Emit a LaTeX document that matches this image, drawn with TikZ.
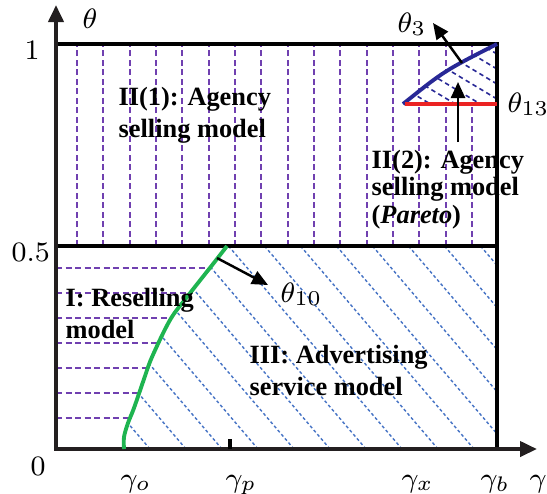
\documentclass[tikz,border=0pt]{standalone}
\usepackage{fontspec}
\setmainfont{Liberation Serif}
\usetikzlibrary{arrows.meta}

\definecolor{hatchpurple}{RGB}{112,64,176}
\definecolor{hatchblue}{RGB}{68,114,196}
\definecolor{curvegreen}{RGB}{30,180,80}
\definecolor{curveblue}{RGB}{40,40,150}
\definecolor{linered}{RGB}{235,35,35}
\definecolor{axisgray}{RGB}{35,31,32}

\tikzset{
  axisline/.style={line width=1.1pt, draw=axisgray, -{Triangle[length=1.7mm,width=1.5mm]}},
  boxline/.style={line width=0.9pt},
  vhatch/.style={draw=hatchpurple, line width=0.5pt, dash pattern=on 0.6mm off 0.35mm},
  dhatch/.style={draw=hatchblue, line width=0.4pt, dash pattern=on 0.3mm off 0.25mm},
  thatch/.style={draw=curveblue, line width=0.45pt, dash pattern=on 0.45mm off 0.35mm},
  pointer/.style={line width=0.7pt, -{Triangle[length=1.6mm,width=1.4mm]}},
  regiontext/.style={font=\fontsize{7.5}{9.1}\selectfont\bfseries, align=left, inner sep=0pt, anchor=west},
  mlabel/.style={font=\fontsize{8.5}{10}\selectfont, inner sep=0pt, anchor=base west},
  % theta_10 boundary (green), starts at (6.8,0)
  greenedge/.style={insert path={-- plot[smooth,tension=0.55] coordinates {(6.8,0) (6.8,1.2) (7.2,2.6) (7.8,4.1) (8.8,7.0) (9.6,9.2) (11.4,12.9) (13.1,15.2) (15.7,18.5) (17.1,20.3)}}},
  % theta_3 boundary (blue), starts at (34.7,34.5)
  blueedge/.style={insert path={.. controls (38.8,37.8) .. (44.1,40.5)}},
}

\begin{document}
\begin{tikzpicture}[x=1mm,y=1mm]
\useasboundingbox (-5.6,-4.4) rectangle (49.1,44.9);
% region I
\begin{scope}
\clip (0,0) [greenedge] -- (0,20.3) -- cycle;
\foreach \y in {3.1,5.6,8.1,10.6,13.1,15.6,18.1}
\draw[vhatch] (0,\y) -- (20,\y);
\end{scope}
% region III
\begin{scope}
\clip (6.8,0) [greenedge] -- (44.1,20.3) -- (44.1,0) -- cycle;
\foreach \k in {-4,...,12}
\draw[dhatch] ({20.2+3.6*\k},0) -- ++(-20,23.4);
\end{scope}
% region II(1)
\foreach \k in {0,...,15}
\draw[vhatch] ({2.1+2.633*\k},20.3) -- ++(0,20.2);
% region II(2)
\fill[white] (34.7,34.5) [blueedge] -- (44.1,34.5) -- cycle;
\begin{scope}
\clip (34.7,34.5) [blueedge] -- (44.1,34.5) -- cycle;
\foreach \k in {0,...,8}
\draw[thatch] (44.1,{29+1.5*\k}) -- ++(-12,7.2);
\end{scope}

\draw[boxline] (0,40.5) -- (44.1,40.5) -- (44.1,0);
\draw[boxline] (0,20.3) -- (44.1,20.3);
\draw[axisline] (0,0) -- (0,44.4);
\draw[axisline] (-0.2,0) -- (48.1,0);
\draw[line width=0.9pt] (17.4,0) -- (17.4,1.0);

\draw[curvegreen, line width=1.1pt] (6.8,0) [greenedge];
\draw[curveblue, line width=1.1pt] (34.7,34.5) [blueedge];
\draw[linered, line width=1.1pt] (34.9,34.5) -- (44.1,34.5);

\node[mlabel] (thetaax) at (2.6,42.1) {$\theta$};
\node[mlabel] (one) at (-3.2,39.0) {$1$};
\node[mlabel] (half) at (-4.5,18.8) {$0.5$};
\node[mlabel] (zero) at (-2.6,-2.6) {$0$};
\node[mlabel] (go) at (6.4,-3.8) {$\gamma_o$};
\node[mlabel] (gp) at (16.9,-3.8) {$\gamma_p$};
\node[mlabel] (gx) at (34.5,-3.8) {$\gamma_x$};
\node[mlabel] (gb) at (42.4,-3.8) {$\gamma_b$};
\node[mlabel] (gax) at (47.3,-3.8) {$\gamma$};

\node[mlabel] (th3) at (34.1,41.7) {$\theta_3$};
\node[mlabel] (th13) at (45.1,33.7) {$\theta_{13}$};
\node[mlabel] (th10) at (22.4,14.7) {$\theta_{10}$};

\node[regiontext] (resell) at (0.9,13.6) {I: Reselling\\model};
\node[regiontext] (agency) at (6.2,33.4) {II(1): Agency\\selling model};
\node[regiontext, font=\fontsize{7.5}{7.9}\selectfont\bfseries] (pareto) at (31.5,25.95) {II(2): Agency\\selling model\\(\textit{Pareto})};
\node[regiontext] (advert) at (19.3,7.9) {III: Advertising\\service model};

\coordinate (p10) at (16.1,19.1);
\coordinate (q10) at (21.2,16.4);
\coordinate (p3) at (40.6,38.6);
\coordinate (q3) at (37.7,42.6);
\coordinate (pp) at (40.2,30.7);
\coordinate (qp) at (40.2,36.7);
\draw[pointer] (p10) -- (q10);
\draw[pointer] (p3) -- (q3);
\draw[pointer] (pp) -- (qp);
\end{tikzpicture}
\end{document}
